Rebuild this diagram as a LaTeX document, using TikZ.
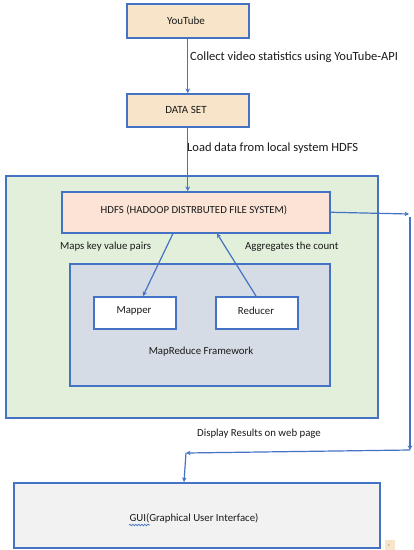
\documentclass[tikz,border=0pt]{standalone}
\usepackage{fontspec}
\setmainfont{Carlito}
\usetikzlibrary{arrows.meta,decorations.pathmorphing}
\definecolor{bord}{HTML}{4472C4}
\definecolor{tan}{HTML}{F8E4C8}
\definecolor{peach}{HTML}{FBE3D6}
\definecolor{greenbg}{HTML}{E2EFDA}
\definecolor{bluebg}{HTML}{D6DCE5}
\definecolor{guibg}{HTML}{F2F2F2}
\definecolor{txt}{HTML}{1A1A1A}
\tikzset{
  box/.style={draw=bord, line width=1.5pt, inner sep=0pt, anchor=north west},
  lbl/.style={text=txt, font=\fontsize{10.8}{12}\selectfont, inner sep=0pt},
  biglbl/.style={lbl, font=\fontsize{12.5}{14}\selectfont},
  conn/.style={draw=bord, line width=1.2pt, -{Stealth[length=4.5pt,width=4.5pt]}},
}
\begin{document}
\begin{tikzpicture}[x=1pt,y=-1pt]
\useasboundingbox (0,0) rectangle (414,550);
\fill[white] (0,0) rectangle (414,550);
% frames
\node[box, fill=greenbg, minimum width=372pt, minimum height=242pt] (hadoop) at (5,175) {};
\node[box, fill=tan, minimum width=122pt, minimum height=34pt] (yt) at (126,3) {};
\node[box, fill=tan, minimum width=122pt, minimum height=33pt] (ds) at (126,93) {};
\node[box, fill=peach, minimum width=268pt, minimum height=41pt] (hdfs) at (61,191) {};
\node[box, fill=bluebg, minimum width=260pt, minimum height=122pt] (mr) at (69,263) {};
\node[box, fill=white, minimum width=82pt, minimum height=32pt] (mapper) at (93,296) {};
\node[box, fill=white, minimum width=82pt, minimum height=32pt] (reducer) at (215,296) {};
\node[box, fill=guibg, minimum width=366pt, minimum height=65pt] (gui) at (13,482) {};
% texts in boxes
\node[lbl, font=\fontsize{11}{12}\selectfont] (ytt) at (186,20.5) {YouTube};
\node[lbl, font=\fontsize{11}{12}\selectfont] (dst) at (186,109.5) {DATA SET};
\node[lbl] (hdfst) at (194,210) {HDFS (HADOOP DISTRBUTED FILE SYSTEM)};
\node[lbl] (mappert) at (134,311) {Mapper};
\node[lbl] (reducert) at (256,311) {Reducer};
\node[lbl] (mrt) at (201,352) {MapReduce Framework};
\node[lbl] (guit) at (194,518) {GUI(Graphical User Interface)};
% labels
\node[biglbl, anchor=west] (l1) at (190,57) {Collect video statistics using YouTube-API};
\node[biglbl, anchor=west] (l2) at (187,148) {Load data from local system HDFS};
\node[lbl, anchor=west] (l3) at (60,247) {Maps key value pairs};
\node[lbl, anchor=west] (l4) at (245,247) {Aggregates the count};
\node[lbl, anchor=west] (l5) at (197,434) {Display Results on web page};
% connectors
\draw[conn] (yt.south) -- (ds.north);
\draw[conn] (ds.south) -- (hdfs.north -| ds.south);
\draw[conn] (hdfs.south -| 173,0) -- (mapper.north -| 143,0);
\draw[conn] (reducer.north -| 256,0) -- (hdfs.south -| 217,0);
\coordinate (c1) at (409,214);
\coordinate (c1b) at (410,217);
\coordinate (c2) at (410,450);
\coordinate (c3) at (186,453);
\draw[conn] (hdfs.east) -- (c1);
\draw[conn] (c1b) -- (c2);
\draw[conn] (c2) -- (c3);
\draw[conn] (c3) -- (gui.north -| 184,0);
% spell-check squiggle under GUI
\draw[bord, line width=0.7pt, decorate, decoration={snake, amplitude=0.8pt, segment length=3pt}] (129,525) -- (150,525);
% small artifact at bottom right
\fill[tan] (385,540) rectangle (395,550);
\node[lbl, font=\fontsize{5}{6}\selectfont] (art) at (389,545) {›};
\end{tikzpicture}
\end{document}
